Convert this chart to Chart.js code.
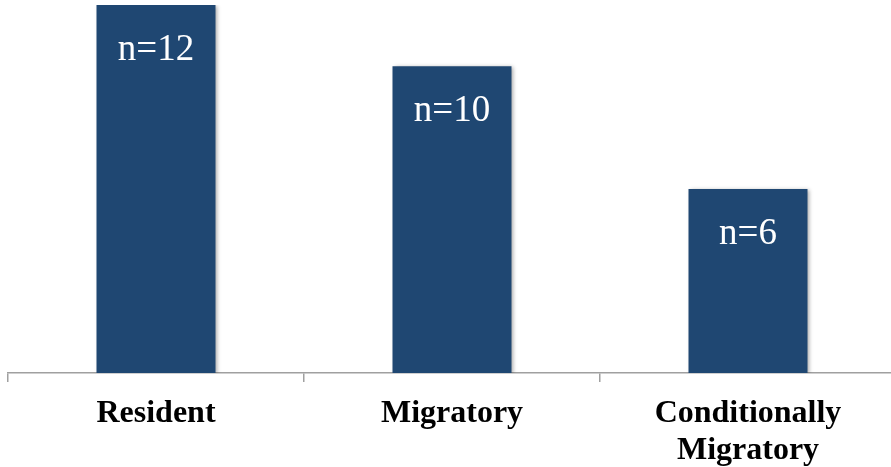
<!DOCTYPE html>
<html>
<head>
<meta charset="utf-8">
<script src="https://cdn.jsdelivr.net/npm/chart.js@4/dist/chart.umd.min.js"></script>
<style>
  html, body { margin: 0; padding: 0; background: #ffffff; overflow: hidden; }
  #wrap { position: relative; width: 897px; height: 467px; }
</style>
</head>
<body>
<div id="wrap"><canvas id="chart"></canvas></div>
<script>
// Behaviour types and number of cases in each
const categories = ['Resident', 'Migratory', ['Conditionally', 'Migratory']];
const counts = [12, 10, 6];
const valuePrefix = 'n=';

const barColor = '#1F4772';

// Soft drop shadow behind the bars
const barShadow = {
  id: 'barShadow',
  beforeDatasetsDraw(chart) {
    const ctx = chart.ctx;
    ctx.save();
    ctx.shadowColor = 'rgba(0,0,0,0.35)';
    ctx.shadowBlur = 4;
    ctx.shadowOffsetX = 2;
    ctx.shadowOffsetY = 1;
  },
  afterDatasetsDraw(chart) {
    chart.ctx.restore();
  }
};

// White "n=" labels inside the top of each bar
const countLabels = {
  id: 'countLabels',
  afterDatasetsDraw(chart) {
    const ctx = chart.ctx;
    const meta = chart.getDatasetMeta(0);
    ctx.save();
    ctx.fillStyle = '#ffffff';
    ctx.font = '37px "Liberation Serif", "Times New Roman", serif';
    ctx.textAlign = 'center';
    ctx.textBaseline = 'middle';
    meta.data.forEach((bar, i) => {
      ctx.fillText(valuePrefix + counts[i], bar.x, bar.y + 45);
    });
    ctx.restore();
  }
};

new Chart(document.getElementById('chart'), {
  type: 'bar',
  data: {
    labels: categories,
    datasets: [{
      data: counts,
      backgroundColor: barColor,
      borderWidth: 0,
      categoryPercentage: 1,
      barPercentage: 0.402
    }]
  },
  options: {
    responsive: true,
    maintainAspectRatio: false,
    animation: false,
    layout: { padding: { left: 8, right: 1, top: 5, bottom: 0 } },
    plugins: {
      legend: { display: false },
      tooltip: { enabled: false }
    },
    scales: {
      x: {
        grid: {
          display: true,
          drawOnChartArea: false,
          drawTicks: true,
          tickLength: 9,
          color: '#a0a0a0',
          lineWidth: 1.5
        },
        border: { display: true, color: '#a0a0a0', width: 1.5 },
        ticks: {
          color: '#000000',
          padding: 13,
          maxRotation: 0,
          autoSkip: false,
          font: { family: '"Liberation Serif", "Times New Roman", serif', size: 32, weight: 'bold', lineHeight: 1.17 }
        },
        afterFit(scale) { scale.height = 94; }
      },
      y: {
        display: false,
        min: 0,
        max: 12
      }
    }
  },
  plugins: [barShadow, countLabels]
});
</script>
</body>
</html>
